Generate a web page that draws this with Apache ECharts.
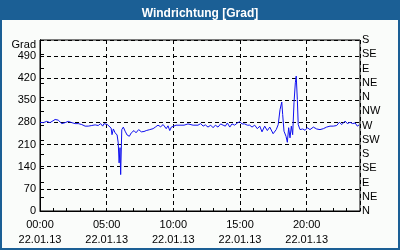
<!DOCTYPE html>
<html><head><meta charset="utf-8">
<script src="https://cdn.jsdelivr.net/npm/echarts@6/dist/echarts.min.js"></script>
<style>html,body{margin:0;padding:0;background:#fafcfa}#c{width:400px;height:250px}</style>
</head><body><div id="c"></div>
<script>
const titleText = 'Windrichtung [Grad]';
const dateLabel = '22.01.13';
const directionLabels = ['N','NE','E','SE','S','SW','W','NW','N','NE','E','SE','S'];
const timesMin = [0,15,30,45,53,68,82,98,113,127,143,158,172,188,203,217,233,248,262,273,282,288,297,303,312,320,324,330,338,347,352,356,360,363,368,375,383,392,402,411,423,432,444,456,468,478,494,501,509,519,531,543,554,568,576,584,591,599,612,630,648,666,675,689,711,723,734,744,756,768,779,789,801,813,824,834,843,854,864,876,888,899,909,921,933,944,954,966,978,989,999,1011,1023,1034,1049,1063,1072,1080,1088,1092,1098,1107,1113,1119,1125,1131,1137,1143,1149,1153,1158,1162,1170,1182,1193,1203,1215,1230,1245,1260,1275,1290,1305,1320,1335,1347,1358,1373,1383,1395,1407,1418,1428,1436];
const directionDeg = [280,279,283,279,285,289,287,276,279,283,279,276,276,273,268,268,270,272,270,276,268,276,279,273,276,262,241,259,247,240,215,152,200,115,257,265,252,240,236,247,254,247,257,250,251,254,257,263,260,265,271,266,273,260,269,254,265,271,271,271,271,275,269,271,271,276,268,272,265,271,263,271,265,275,271,268,278,265,275,271,278,282,275,275,271,271,265,271,260,268,250,268,254,265,244,257,273,320,344,305,252,236,217,263,231,268,241,342,405,426,352,273,257,259,255,263,257,265,259,257,260,265,268,268,270,280,273,284,276,280,276,278,268,272];

const pad = n => (n < 10 ? '0' : '') + n;
const seriesData = timesMin.map((t, i) => [t, directionDeg[i]]);
const font = 'Liberation Sans, Arial, sans-serif';
const chart = echarts.init(document.getElementById('c'), null, {renderer: 'canvas'});
chart.setOption({
  animation: false,
  backgroundColor: '#fafcfa',
  title: {text: titleText, left: 'center', top: 3,
    textStyle: {color: '#ffffff', fontSize: 12, fontWeight: 'bold', fontFamily: font}},
  graphic: [
    {type: 'rect', z: -10, shape: {x: 0, y: 0, width: 400, height: 20}, style: {fill: '#1b5f95'}},
    {type: 'rect', z: -10, shape: {x: 1, y: 1, width: 398, height: 248}, style: {fill: 'none', stroke: '#1b5f95', lineWidth: 2}}
  ],
  grid: {left: 40, right: 40, top: 40, bottom: 39, show: true, borderColor: '#000', borderWidth: 1, backgroundColor: 'transparent'},
  xAxis: [
    {type: 'value', min: 0, max: 1440, interval: 300, position: 'bottom',
      axisLine: {show: true, lineStyle: {color: '#000', width: 1}},
      axisTick: {show: true, inside: true, length: 3, lineStyle: {color: '#000'}},
      axisLabel: {show: true, showMaxLabel: false, color: '#000', fontSize: 11, fontFamily: font, lineHeight: 15, margin: 6,
        formatter: v => pad(v / 60) + ':00\n' + dateLabel},
      splitLine: {show: true, lineStyle: {color: '#000', type: [4, 3], width: 1}}},
    {type: 'value', min: 0, max: 1440, interval: 60, position: 'bottom',
      axisLine: {show: false},
      axisTick: {show: true, inside: true, length: 3, lineStyle: {color: '#000'}},
      axisLabel: {show: false}, splitLine: {show: false}}
  ],
  yAxis: [
    {type: 'value', min: 0, max: 540, interval: 70, position: 'left',
      name: 'Grad', nameLocation: 'end', nameGap: -6,
      nameTextStyle: {color: '#000', fontSize: 11, fontFamily: font, align: 'right', verticalAlign: 'middle', padding: [0, 4, 0, 0]},
      axisLine: {show: true, lineStyle: {color: '#000'}},
      axisTick: {show: false},
      axisLabel: {showMaxLabel: false, color: '#000', fontSize: 11, fontFamily: font, margin: 4},
      splitLine: {show: true, lineStyle: {color: '#000', type: [4, 3], width: 1}}},
    {type: 'value', min: 0, max: 540, interval: 45, position: 'right',
      axisLine: {show: true, lineStyle: {color: '#000'}},
      axisTick: {show: true, length: 4, lineStyle: {color: '#000'}},
      axisLabel: {color: '#000', fontSize: 11, fontFamily: font, margin: 2,
        formatter: v => directionLabels[Math.round(v / 45)]},
      splitLine: {show: false}}
  ],
  series: [{type: 'line', xAxisIndex: 0, yAxisIndex: 0, data: seriesData, symbol: 'none',
    lineStyle: {color: '#1010f0', width: 1}}]
});
</script></body></html>
